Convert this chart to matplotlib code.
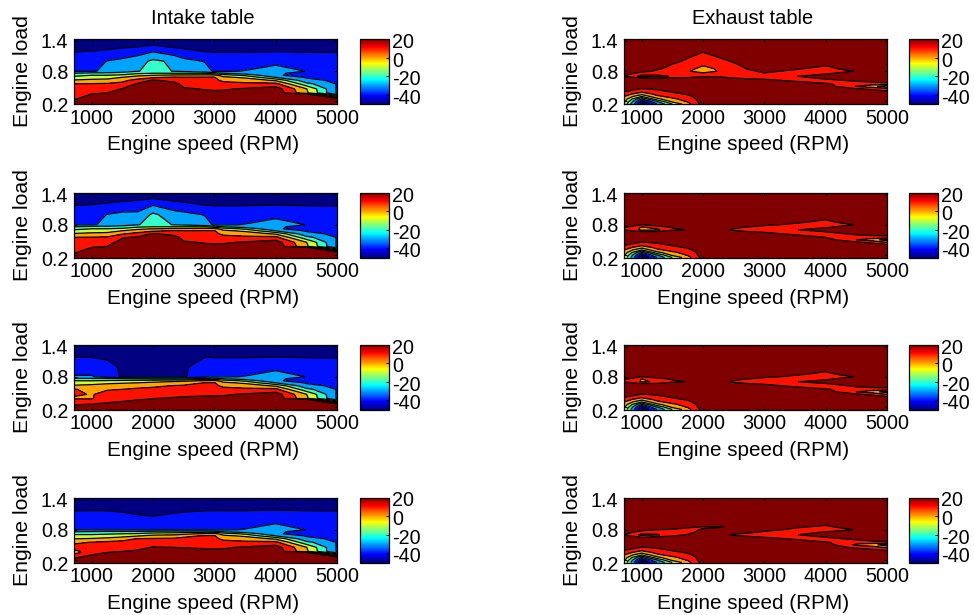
import numpy as np
import matplotlib
matplotlib.use("Agg")
import matplotlib.pyplot as plt
from matplotlib.cm import ScalarMappable
from matplotlib.colors import Normalize, ListedColormap
from matplotlib.transforms import ScaledTranslation

plt.rcParams['font.family'] = ['Liberation Sans', 'DejaVu Sans']
plt.rcParams['axes.unicode_minus'] = False

W, H = 974, 615
FS = 14.2
XTICKS = [1000, 2000, 3000, 4000, 5000]
YTICKS = [0.2, 0.8, 1.4]
CTICKS = [20, 0, -20, -40]
LEVELS = [-40, -30, -20, -10, 0, 10, 20]
TITLES = ['Intake table', 'Exhaust table']
XLABEL = 'Engine speed (RPM)'
YLABEL = 'Engine load'

# ---- Intake tables: speed -> values at each load in INTAKE_LOADS
INTAKE_LOADS = [.15, .25, .35, .37, .45, .55, .62, .68, .72, .76, .80, 1.0, 1.2, 1.32, 1.45]
INTAKE_1 = {
    712:  [25, 19, 16, 15.4, 13, 10, 1, -7, -13, -20, -30.5, -35, -40.5, -43, -45],
    1000: [28, 25, 20, 19, 15, 10.5, 2.5, -5, -10, -17, -30.5, -35, -40, -43, -45],
    1250: [30, 26, 21, 20, 16, 11, 3, -4, -10, -17, -29, -29.7, -39, -43, -45],
    1500: [30, 28, 25, 24, 20.5, 13, 7, 0, -8, -16, -24, -27.5, -37, -43, -45],
    1750: [32, 30, 28, 27, 25, 21, 14, 4, -2, -12, -20.3, -24, -35, -42, -45],
    2000: [32, 30, 30, 29, 28, 24, 21, 8, 0, -10, -18, -18, -31, -40, -45],
    2350: [32, 30, 29, 29, 27, 23, 17, 11, 2, -10, -20.3, -22, -36, -43, -45],
    2500: [30, 27, 24, 23, 21, 17, 14, 10.5, 2, -10, -21.5, -27, -38, -43, -45],
    2850: [28, 26, 22, 21.5, 19.5, 15, 12, 10.7, 3, -10, -27, -30.5, -40.5, -43, -45],
    3000: [28, 26, 22, 21.5, 19, 15, 12, 10.7, 3, -15, -31, -36, -40.5, -43, -45],
    3150: [28, 26, 23, 22, 19, 13, 8, 2, -5, -20, -31, -36, -40.5, -43, -45],
    3500: [30, 28, 25, 24, 21, 12, 6, -2, -12, -25, -29.5, -36, -40.5, -43, -45],
    4000: [32, 30, 28, 27, 25, 13, -1.5, -20, -29, -29, -27, -32, -40.5, -43, -45],
    4500: [32, 28, 21, 2, .5, -17, -27, -31, -33, -32, -30.1, -36, -40.5, -43, -45],
    5000: [30, 25, -25, -31, -31, -30.5, -32, -36, -36, -36, -36, -37, -40.5, -43, -45],
}
INTAKE_2 = {**INTAKE_1,
    1250: [30, 26, 20.5, 20, 16, 11, 3, -4, -10, -17, -29, -29.7, -39, -43, -45],
    1500: [30, 28, 25, 25, 24, 19, 9, 0, -8, -16, -24, -27.5, -37, -43, -45],
    1750: [32, 30, 28, 27, 25, 21, 14, 4, -2, -12, -20.3, -28, -35, -42, -45],
    2350: [32, 30, 29, 29, 27, 23, 17, 11, 2, -10, -20.3, -26, -36, -43, -45],
}
INTAKE_3 = {**INTAKE_1,
    712:  [25, 19.5, 11, 9, 11, 10.5, 1, -4, -10, -18, -29, -36, -40.3, -43, -45],
    1000: [28, 20.5, 10.5, 9.5, 9.6, 8, 2, -3, -10, -18, -29, -36, -40.3, -43, -45],
    1250: [30, 22, 16, 14, 12, 9.5, 4, -2, -9, -18, -35, -38, -41, -43, -45],
    1500: [30, 23, 18, 17, 14, 10, 5.5, -1, -8, -19, -41, -41, -41.5, -43, -45],
    1750: [30, 25, 19.5, 19, 15, 11.5, 7, 0, -7, -20, -42, -45, -45, -45, -46],
    2000: [30, 26, 20.5, 19.8, 16, 12, 8.5, 2, -5, -22, -42, -45, -45, -45, -46],
    2350: [30, 28, 22, 21, 17, 13, 10.5, 5, -3, -22, -42, -45, -45, -45, -46],
    2500: [30, 28, 22, 21.5, 18, 14, 11, 6, -2, -22, -41, -41, -43, -44, -45],
    2850: [28, 27, 22, 21.5, 19, 15, 12, 10.3, 1, -16, -33, -37, -40.2, -43, -45],
}
INTAKE_4 = {**INTAKE_1,
    712:  [25, 19, 6, 7, 14, 8, 0, -7, -12, -20, -30, -36, -40.5, -43, -45],
    1000: [27, 24, 16, 15.5, 15, 10.5, 1, -7, -12, -19, -30.5, -36, -40.5, -43, -45],
    1250: [28, 25, 20, 19, 16, 12, 3, -6, -11, -18, -30.5, -36, -40.5, -43, -45],
    1500: [30, 26, 21, 20, 17, 13, 6, -4, -10, -18, -30.5, -37, -41, -43, -45],
    1750: [30, 27, 22, 21, 18, 14, 10.5, -1, -9, -18, -30.5, -38, -42, -44, -45],
    2000: [32, 30, 25, 24, 20.5, 15, 11, 3, -6, -16, -30.5, -38.5, -43, -44, -46],
    2350: [32, 30, 24, 23, 20, 15, 11.5, 4, -5, -15, -30, -37, -41.5, -43, -45],
    2500: [30, 29, 24, 23, 19.7, 15, 12, 8, -3, -15, -30.5, -37, -41, -43, -45],
    2850: [28, 26, 22, 21.5, 19.3, 15, 12, 10.7, 2, -14, -30.5, -36, -40.5, -43, -45],
}

# ---- Exhaust tables: plateau value plus readings {speed: {load: value}}
EXH_SPEEDS = [712, 1000, 1250, 1500, 1750, 2000, 2250, 2500, 2750, 3000, 3500, 4000, 4500, 4750, 5000]
EXH_LOADS = [.15, .2, .25, .3, .35, .4, .45, .5, .55, .6, .65, .7, .75, .8, .85, .9, 1.0, 1.2, 1.45]
EXH_PLATEAU = 25.0
EXH_LOW_LOAD = {
    712:  {.15: -2, .2: 3, .25: 7, .3: 10.2, .35: 15, .4: 21},
    1000: {.15: -50, .2: -44, .25: -30, .3: -10, .35: 4, .4: 13, .45: 19.5},
    1250: {.15: -30, .2: -20, .25: -3, .3: 8, .35: 13, .4: 18, .45: 21},
    1500: {.15: -10, .2: 3, .25: 8, .3: 13, .35: 18, .4: 21},
    1750: {.15: 6, .2: 11, .25: 14, .3: 18, .35: 21},
    2000: {.15: 24},
}
EXHAUST_1 = {
    712:  {.7: 19.5},
    1000: {.65: 27, .7: 7, .75: 13, .8: 24},
    1250: {.7: 7, .75: 13, .8: 18, .85: 21.5},
    1500: {.7: 11, .75: 14, .8: 15, .85: 16.5, .9: 18, 1.0: 23},
    1750: {.7: 15, .75: 13, .8: 11, .85: 12.5, .9: 14, 1.0: 18},
    2000: {.7: 19, .75: 13, .8: 5, .85: 7.5, .9: 9.7, 1.0: 16, 1.2: 20.5},
    2250: {.7: 19, .75: 14, .8: 10.5, .85: 11, .9: 12, 1.0: 17},
    2500: {.65: 22, .7: 15, .75: 13, .8: 13, .85: 15, .9: 17, 1.0: 21},
    2750: {.65: 20, .7: 14, .75: 15, .8: 18, .85: 21, .9: 23},
    3000: {.65: 19, .7: 15, .75: 19, .8: 22},
    3500: {.6: 20, .65: 16, .7: 19.5, .75: 17, .8: 18, .85: 21},
    4000: {.55: 21, .6: 16, .65: 20.5, .75: 19.5, .8: 15, .85: 17, .9: 19.5},
    4500: {.45: 21, .5: 9.5, .55: 16, .6: 20, .8: 20.5},
    4750: {.45: 18, .5: 5, .55: 14, .6: 22},
    5000: {.4: 21, .45: 14, .5: -8, .55: 17},
}
EXHAUST_2 = {
    712:  {.7: 19.5, .75: 21},
    1000: {.7: 8, .75: 9, .8: 20},
    1250: {.7: 8, .75: 14},
    1500: {.7: 19, .75: 20.5},
    1750: {.7: 20.2},
    2500: {.7: 18.5, .75: 22},
    2750: {.65: 22, .7: 14, .75: 19},
    3000: {.65: 20, .7: 15, .75: 16, .8: 22},
    3500: {.6: 20, .65: 15, .7: 19.5, .75: 17, .8: 18, .85: 21.5},
    4000: {.55: 20, .6: 15, .65: 19, .7: 24, .75: 19, .8: 15, .85: 17.5, .9: 20},
    4500: {.45: 22, .5: 10, .55: 15, .6: 20, .8: 20.5},
    4750: {.45: 18, .5: 5, .55: 15, .6: 22},
    5000: {.4: 22, .45: 10, .5: -5, .55: 15, .6: 23},
}
EXHAUST_3 = {**EXHAUST_2,
    1000: {.7: 9, .75: 9.5, .8: 20},
    1250: {.7: 11, .75: 14},
    4000: {.55: 21, .6: 16, .65: 18, .7: 24, .75: 19, .8: 15, .85: 17.5, .9: 20},
}
EXHAUST_4 = {
    712:  {.7: 19.5},
    1000: {.65: 20, .7: 8, .75: 15, .8: 23},
    1250: {.65: 23, .7: 9, .75: 13, .8: 20},
    1500: {.7: 15, .75: 15, .8: 19},
    1750: {.7: 21, .75: 16, .8: 17, .85: 21},
    2000: {.8: 21, .85: 19, .9: 24},
    2250: {.85: 19},
    2500: {.7: 18.5, .85: 22},
    2750: {.65: 23, .7: 15, .75: 22},
    3000: {.65: 20, .7: 15, .75: 18, .8: 23},
    3500: {.6: 21, .65: 15, .7: 19.5, .75: 16, .8: 18, .85: 21},
    4000: {.55: 21, .6: 14, .65: 20, .7: 24, .75: 21, .8: 16, .85: 17.5, .9: 21},
    4500: {.45: 18, .5: 8, .55: 14, .6: 20, .8: 20.5},
    4750: {.4: 22, .45: 15, .5: 4, .55: 15, .6: 24},
    5000: {.4: 19, .45: 8, .5: -6, .55: 17},
}


def intake_grid(table):
    speeds = sorted(table)
    return speeds, INTAKE_LOADS, np.array([table[s] for s in speeds]).T


def exhaust_grid(readings):
    z = np.full((len(EXH_LOADS), len(EXH_SPEEDS)), EXH_PLATEAU)
    for source in (EXH_LOW_LOAD, readings):
        for speed, column in source.items():
            for load, value in column.items():
                z[EXH_LOADS.index(load), EXH_SPEEDS.index(speed)] = value
    return EXH_SPEEDS, EXH_LOADS, z


def matlab_jet(n=256):
    t = np.linspace(0, 1, n)
    r = np.clip(np.minimum(4 * t - 1.5, -4 * t + 4.5), 0, 1)
    g = np.clip(np.minimum(4 * t - 0.5, -4 * t + 3.5), 0, 1)
    b = np.clip(np.minimum(4 * t + 0.5, -4 * t + 2.5), 0, 1)
    return ListedColormap(np.column_stack([r, g, b]))


fig = plt.figure(figsize=(W / 100, H / 100), dpi=100)


def px_axes(x0, x1, y0, y1):
    return fig.add_axes([x0 / W, 1 - y1 / H, (x1 - x0) / W, (y1 - y0) / H])


ROW_TOPS = [39, 192.5, 344.5, 497.5]
ROW_H = 65
COLS = [dict(ax=(74, 337), cb=(360, 389)), dict(ax=(624, 887), cb=(909, 938))]
GRIDS = [
    [intake_grid(INTAKE_1), exhaust_grid(EXHAUST_1)],
    [intake_grid(INTAKE_2), exhaust_grid(EXHAUST_2)],
    [intake_grid(INTAKE_3), exhaust_grid(EXHAUST_3)],
    [intake_grid(INTAKE_4), exhaust_grid(EXHAUST_4)],
]
norm = Normalize(-50, 20)
jet = matlab_jet()
bounds = [-100] + LEVELS + [100]
lowers = [-50] + LEVELS
fills = [jet(norm(v)) for v in lowers]
YSHIFT = {0.2: 3.5, 0.8: 0.0, 1.4: -0.5}

for r, top in enumerate(ROW_TOPS):
    for c, col in enumerate(COLS):
        ax = px_axes(col['ax'][0], col['ax'][1], top, top + ROW_H)
        s, l, z = GRIDS[r][c]
        ax.contourf(s, l, z, levels=bounds, colors=fills)
        ax.contour(s, l, z, levels=LEVELS, colors='k', linewidths=0.9,
                   negative_linestyles='solid')
        ax.set_xlim(712, 5000)
        ax.set_ylim(0.15, 1.44)
        ax.set_xticks(XTICKS)
        ax.set_yticks(YTICKS)
        ax.set_yticklabels(['%.1f' % v for v in YTICKS])
        ax.tick_params(direction='in', length=2.2, width=0.7, top=True, right=True,
                       labelsize=FS, pad=4.2)
        ax.tick_params(axis='x', pad=3.5)
        for v, lab in zip(YTICKS, ax.get_yticklabels()):
            lab.set_transform(lab.get_transform() +
                              ScaledTranslation(0, -YSHIFT[v] / 100, fig.dpi_scale_trans))
        for sp in ax.spines.values():
            sp.set_linewidth(0.9)
            sp.set_zorder(5)
        ax.set_xlabel(XLABEL, fontsize=14.9, va='center')
        ax.xaxis.set_label_coords(0.49, -0.63)
        ax.set_ylabel(YLABEL, fontsize=15.3, va='center')
        ax.yaxis.set_label_coords(-0.197, 0.5)
        if r == 0:
            ax.set_title(TITLES[c], fontsize=14.4, pad=10.5, x=0.49)
        cax = px_axes(col['cb'][0], col['cb'][1], top, top + ROW_H)
        cb = fig.colorbar(ScalarMappable(norm=norm, cmap=jet), cax=cax, ticks=CTICKS)
        cb.ax.set_yticklabels([str(v) for v in CTICKS])
        cb.ax.tick_params(direction='in', length=2, width=0.7, labelsize=FS, pad=2.5)
        cb.outline.set_linewidth(0.9)
        for lab in cb.ax.get_yticklabels():
            lab.set_transform(lab.get_transform() +
                              ScaledTranslation(0, -1.5 / 100, fig.dpi_scale_trans))

fig.savefig('out.png', dpi=100)
